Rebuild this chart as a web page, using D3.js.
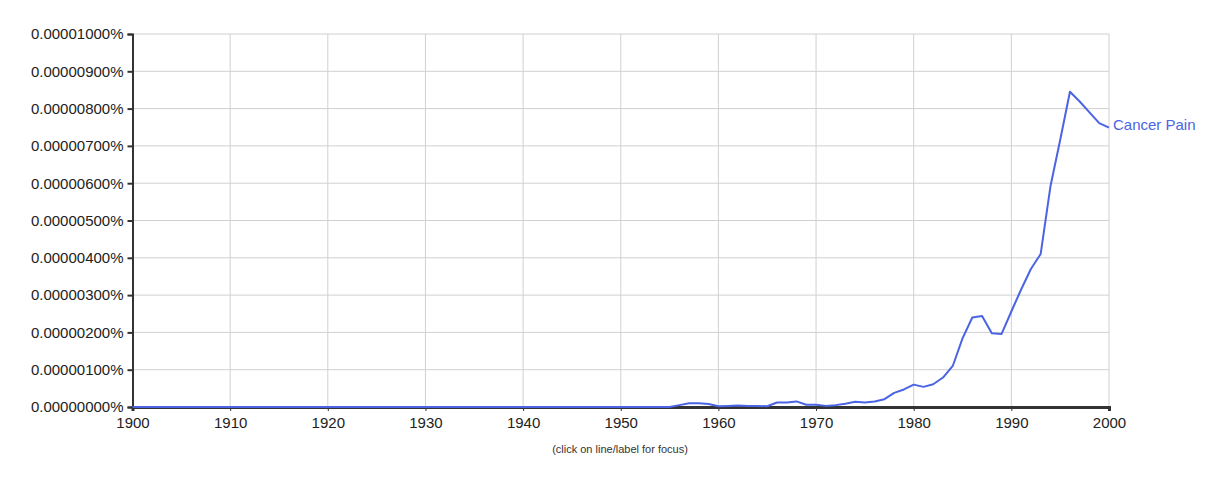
<!DOCTYPE html>
<html><head><meta charset="utf-8">
<script src="https://cdn.jsdelivr.net/npm/d3@7"></script>
<style>body{margin:0;background:#fff;font-family:"Liberation Sans",Arial,sans-serif;}</style>
</head><body><svg id="c" width="1227" height="489"></svg>
<script>
const seriesName = "Cancer Pain";
const years = d3.range(1900, 2001);
// frequency in units of 0.000001 %
const freq = [
 0,0,0,0,0,0,0,0,0,0,
 0,0,0,0,0,0,0,0,0,0,
 0,0,0,0,0,0,0,0,0,0,
 0,0,0,0,0,0,0,0,0,0,
 0,0,0,0,0,0,0,0,0,0,
 0,0,0,0,0,0,0.05,0.10,0.10,0.08,
 0.02,0.03,0.04,0.03,0.03,0.02,0.12,0.12,0.15,0.06,
 0.06,0.03,0.05,0.09,0.14,0.12,0.15,0.21,0.38,0.47,
 0.60,0.54,0.61,0.79,1.10,1.84,2.40,2.44,1.98,1.96,
 2.56,3.15,3.70,4.10,5.91,7.16,8.45,8.19,7.90,7.61,
 7.49
];
const xTicks = d3.range(1900, 2001, 10);
const yTicks = d3.range(0, 11, 1);

const svg = d3.select("#c");
const x = d3.scaleLinear().domain([1900, 2000]).range([132.5, 1109]);
const y = d3.scaleLinear().domain([0, 10]).range([407, 34]);
const fmt = v => (v * 1e-6).toFixed(8) + "%";
const FONT = "Liberation Sans, Arial, sans-serif";

// grid
svg.append("g").selectAll("line").data(yTicks.filter(d => d > 0)).join("line")
  .attr("x1", x(1900)).attr("x2", x(2000))
  .attr("y1", d => y(d)).attr("y2", d => y(d))
  .attr("stroke", "#d0d0d0").attr("stroke-width", 1);
svg.append("g").selectAll("line").data(xTicks.filter(d => d > 1900)).join("line")
  .attr("x1", d => x(d)).attr("x2", d => x(d))
  .attr("y1", y(10)).attr("y2", y(0))
  .attr("stroke", "#d0d0d0").attr("stroke-width", 1);

// axes
const yAxis = d3.axisLeft(y).tickValues(yTicks).tickFormat(fmt).tickSize(5).tickPadding(4);
const gy = svg.append("g").attr("transform", `translate(${x(1900)},0)`).call(yAxis);
gy.select(".domain").attr("stroke", "#333").attr("stroke-width", 2);
gy.selectAll(".tick line").attr("stroke", "#333").attr("stroke-width", 2);
gy.selectAll("text").attr("fill", "#222").style("font-size", "15px").style("font-family", FONT);

const xAxis = d3.axisBottom(x).tickValues(xTicks).tickFormat(d3.format("d")).tickSize(4).tickPadding(6);
const gx = svg.append("g").attr("transform", `translate(0,${y(0)})`).call(xAxis);
gx.select(".domain").attr("stroke", "#333").attr("stroke-width", 3);
gx.selectAll(".tick line").attr("stroke", "#333").attr("stroke-width", 1);
gx.selectAll("text").attr("fill", "#222").style("font-size", "15px").style("font-family", FONT);

// line
const line = d3.line().x((d, i) => x(years[i])).y(d => y(d));
svg.append("path").datum(freq).attr("d", line)
  .attr("fill", "none").attr("stroke", "#4a64e4").attr("stroke-width", 2)
  .attr("stroke-linejoin", "round");

svg.append("text").attr("x", x(2000) + 4).attr("y", y(freq[freq.length - 1]))
  .attr("dy", "0.15em").attr("fill", "#4a64e4")
  .style("font-size", "15px").style("font-family", FONT).text(seriesName);

svg.append("text").attr("x", 620).attr("y", 453).attr("text-anchor", "middle")
  .attr("fill", "#333").style("font-size", "11px").style("font-family", FONT)
  .text("(click on line/label for focus)");
</script></body></html>
